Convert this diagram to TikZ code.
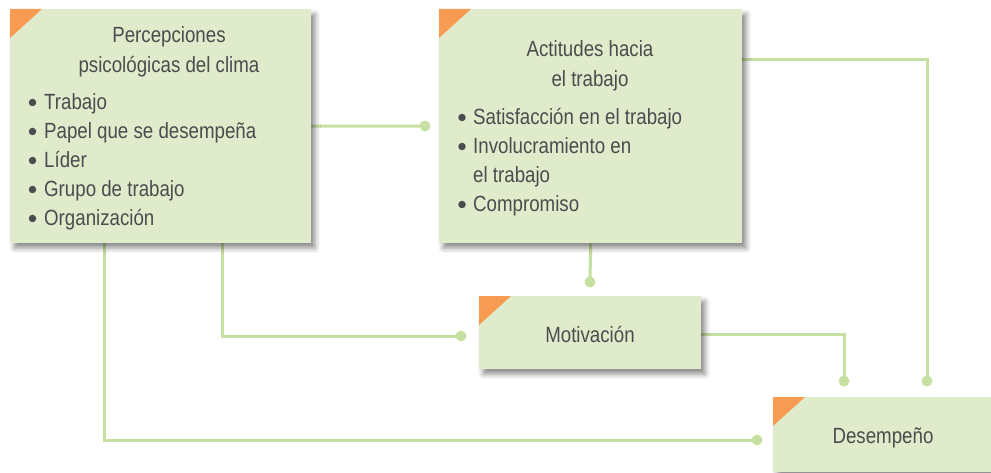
\documentclass[tikz,border=0pt]{standalone}
\usepackage{fontspec}
\setmainfont{Liberation Sans}[FakeStretch=0.85]
\usetikzlibrary{shadows.blur,backgrounds}
\definecolor{boxfill}{HTML}{E0EBCC}
\definecolor{corner}{HTML}{F79B52}
\definecolor{link}{HTML}{C6E0A2}
\definecolor{txt}{HTML}{4A4D4D}
\begin{document}
\begin{tikzpicture}[x=1pt,y=-1pt,
  boxstyle/.style={fill=boxfill, draw=none, inner sep=0pt, anchor=north west,
    blur shadow={shadow xshift=4pt, shadow yshift=-5pt, shadow blur radius=5pt, shadow opacity=45}},
  corner/.style={fill=corner},
  txtstyle/.style={text=txt, inner sep=0pt, font=\fontsize{22}{26}\selectfont},
  item/.style={txtstyle, anchor=base west},
  ttl/.style={txtstyle, anchor=base},
  bul/.style={circle, fill=txt, inner sep=0pt, minimum size=7.5pt},
  conn/.style={draw=link, line width=3pt},
  dotn/.style={circle, fill=link, inner sep=0pt, minimum size=11pt}]
\useasboundingbox (0,0) rectangle (991,473);
% boxes
\node[boxstyle, minimum width=301pt, minimum height=234pt] (b1) at (10,9) {};
\node[boxstyle, minimum width=303pt, minimum height=234pt] (b2) at (439,9) {};
\node[boxstyle, minimum width=222pt, minimum height=73pt] (b3) at (479,296) {};
\node[boxstyle, minimum width=222pt, minimum height=75pt] (b4) at (773,397) {};
\foreach \b in {b1,b2,b3,b4}{
  \fill[corner] (\b.north west) -- ++(32,0) -- ++(-32,29) -- cycle;
}
% texts box 1
\node[ttl] (t1a) at (169,43) {Percepciones};
\node[ttl] (t1b) at (169,73) {psicológicas del clima};
\foreach \t [count=\i] in {Trabajo, Papel que se desempeña, Líder, Grupo de trabajo, Organización}{
  \node[item] (pa\i) at (44,81+29*\i) {\t};
  \node[bul] (pb\i) at (32.5,73.5+29*\i) {};
}
% texts box 2
\node[ttl] (t2a) at (590,57) {Actitudes hacia};
\node[ttl] (t2b) at (590,87) {el trabajo};
\node[item] (qa1) at (473,125) {Satisfacción en el trabajo};
\node[item] (qa2) at (473,154) {Involucramiento en};
\node[item] (qa3) at (473,183) {el trabajo};
\node[item] (qa4) at (473,212) {Compromiso};
\node[bul] (qb1) at (462,117.5) {};
\node[bul] (qb2) at (462,146.5) {};
\node[bul] (qb4) at (462,204.5) {};
% texts boxes 3, 4
\node[ttl] (t3) at (590,342) {Motivación};
\node[ttl] (t4) at (883,443) {Desempeño};
% dots
\node[dotn] (d1) at (425,126) {};
\node[dotn] (d2) at (927,381) {};
\node[dotn] (d3) at (590,282) {};
\node[dotn] (d4) at (461,336) {};
\node[dotn] (d5) at (757,440) {};
\node[dotn] (d6) at (844,381) {};
% connectors
\begin{pgfonlayer}{background}
\draw[conn] (b1.east) -- (d1.center);
\draw[conn] ([yshift=-51pt]b2.north east) -| (d2.center);
\draw[conn] (b2.south) -- (d3.center);
\draw[conn] ([xshift=62pt]b1.south) |- (d4.center);
\draw[conn] ([xshift=-56pt]b1.south) |- (d5.center);
\draw[conn] ([yshift=-2pt]b3.east) -| (d6.center);
\end{pgfonlayer}
\end{tikzpicture}
\end{document}
